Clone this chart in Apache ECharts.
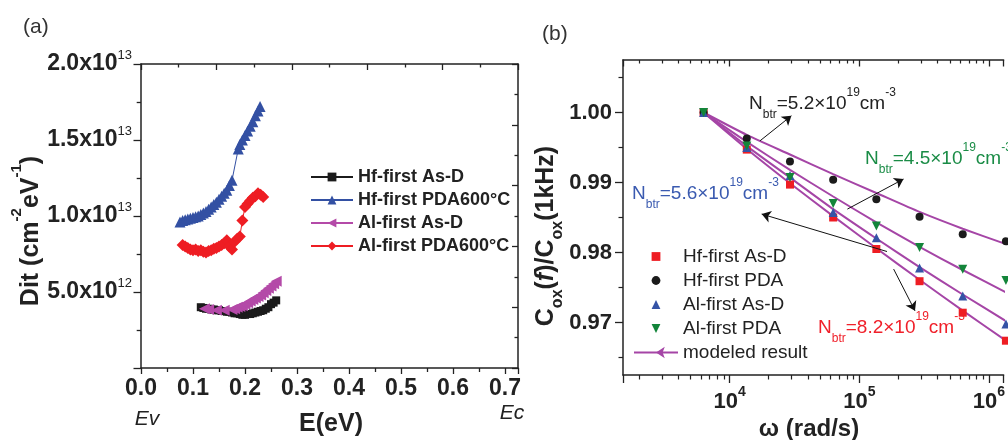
<!DOCTYPE html>
<html>
<head>
<meta charset="utf-8">
<script src="https://cdn.jsdelivr.net/npm/echarts@6/dist/echarts.min.js"></script>
<style>
  html, body { margin: 0; padding: 0; background: #fff; }
  #main { width: 1008px; height: 440px; }
</style>
</head>
<body>
<div id="main"></div>
<script>
// ---------- (a) Dit vs E ----------
// [E (eV), Dit (cm^-2 eV^-1)]
const hfAsD = [[0.115,4.0e12],[0.12,3.95e12],[0.125,3.9e12],[0.13,3.9e12],[0.135,3.85e12],[0.14,3.85e12],[0.145,3.8e12],[0.15,3.8e12],[0.155,3.75e12],[0.16,3.75e12],[0.165,3.7e12],[0.17,3.7e12],[0.175,3.65e12],[0.18,3.6e12],[0.185,3.6e12],[0.19,3.55e12],[0.195,3.5e12],[0.2,3.5e12],[0.205,3.55e12],[0.21,3.55e12],[0.215,3.6e12],[0.22,3.65e12],[0.225,3.7e12],[0.23,3.75e12],[0.235,3.8e12],[0.24,3.9e12],[0.245,4.0e12],[0.25,4.2e12],[0.255,4.3e12],[0.26,4.45e12]]
const hfPDA600 = [[0.075,9.6e12],[0.08,9.7e12],[0.085,9.75e12],[0.09,9.8e12],[0.095,9.85e12],[0.1,9.9e12],[0.105,9.95e12],[0.11,1.0e13],[0.115,1.01e13],[0.12,1.02e13],[0.125,1.03e13],[0.13,1.045e13],[0.135,1.06e13],[0.14,1.075e13],[0.145,1.09e13],[0.15,1.11e13],[0.155,1.13e13],[0.16,1.15e13],[0.165,1.17e13],[0.17,1.2e13],[0.175,1.235e13],[0.187,1.44e13],[0.19,1.47e13],[0.195,1.5e13],[0.2,1.53e13],[0.205,1.56e13],[0.21,1.59e13],[0.215,1.62e13],[0.22,1.66e13],[0.225,1.69e13],[0.229,1.72e13]]
const alAsD = [[0.122,3.9e12],[0.13,3.85e12],[0.145,3.8e12],[0.16,3.8e12],[0.175,3.85e12],[0.18,3.9e12],[0.185,4.0e12],[0.19,4.05e12],[0.195,4.1e12],[0.2,4.2e12],[0.205,4.3e12],[0.21,4.4e12],[0.215,4.5e12],[0.22,4.6e12],[0.225,4.7e12],[0.23,4.8e12],[0.235,4.95e12],[0.24,5.1e12],[0.245,5.25e12],[0.25,5.4e12],[0.255,5.55e12],[0.26,5.7e12]]
const alPDA600 = [[0.08,8.1e12],[0.085,8.0e12],[0.09,7.9e12],[0.095,7.8e12],[0.1,7.75e12],[0.105,7.8e12],[0.11,7.7e12],[0.115,7.75e12],[0.12,7.65e12],[0.125,7.6e12],[0.13,7.7e12],[0.135,7.75e12],[0.14,7.85e12],[0.145,7.9e12],[0.15,8.0e12],[0.155,8.1e12],[0.16,8.2e12],[0.165,8.4e12],[0.17,8.0e12],[0.175,7.8e12],[0.18,8.3e12],[0.185,8.5e12],[0.19,8.65e12],[0.195,9.7e12],[0.2,1.06e13],[0.205,1.08e13],[0.21,1.1e13],[0.215,1.12e13],[0.22,1.13e13],[0.225,1.15e13],[0.23,1.14e13],[0.235,1.125e13]]

// ---------- (b) Cox(f)/Cox(1kHz) vs omega ----------
const omega = [6283, 13537, 29164, 62832, 135366, 291637, 628318, 1353660]
const ratioHfAsD = [1.000, 0.9947, 0.9897, 0.9850, 0.9805, 0.9759, 0.9714, 0.9674]
const ratioHfPDA = [1.000, 0.9963, 0.9930, 0.9904, 0.9876, 0.9851, 0.9826, 0.9816]
const ratioAlAsD = [1.000, 0.9950, 0.9910, 0.9857, 0.9821, 0.9778, 0.9738, 0.9698]
const ratioAlPDA = [1.000, 0.9952, 0.9907, 0.9870, 0.9838, 0.9807, 0.9776, 0.9760]
// modeled result, one curve per Nbtr
const model52 = [1.000, 0.9968, 0.9940, 0.9912, 0.9885, 0.9858, 0.9834, 0.9812]
const model45 = [1.000, 0.9958, 0.9918, 0.9880, 0.9843, 0.9808, 0.9775, 0.9743]
const model56 = [1.000, 0.9952, 0.9907, 0.9862, 0.9820, 0.9779, 0.9740, 0.9702]
const model82 = [1.000, 0.9948, 0.9899, 0.9852, 0.9806, 0.9761, 0.9717, 0.9674]
// tick values of panel (b)
const ratioTicks = [0.97, 0.98, 0.99, 1.00]
const ratioMinorTicks = [0.965, 0.975, 0.985, 0.995, 1.005]
const omegaMinorTicks = [2e3,3e3,4e3,5e3,6e3,7e3,8e3,9e3,2e4,3e4,4e4,5e4,6e4,7e4,8e4,9e4,2e5,3e5,4e5,5e5,6e5,7e5,8e5,9e5]

const FONT = '"Liberation Sans", Arial, sans-serif'
const INK = '#222'
// 右边框在画面之外，只画到 1.3e6 rad/s
const OMEGA_MIN = 1500
const OMEGA_MAX = 1.2995e6

const zip = (xs, ys) => xs.map((x, i) => [x, ys[i]])

// 坐标轴线公共样式（不贴零点）
const axisLine = () => ({ onZero: false, lineStyle: { color: INK, width: 1.5 } })
const tick = (len, inside) => ({ show: true, inside: !!inside, length: len, lineStyle: { color: INK, width: 1.3 } })

// (a) labels: 5.0x10^12
function sciLabel(v) {
  if (v <= 0) return ''
  const e = Math.floor(Math.log10(v) + 1e-9)
  const m = (v / Math.pow(10, e)).toFixed(1)
  return '{m|' + m + 'x10}{s|' + e + '}'
}
function powLabel(v) {
  const e = Math.log10(v)
  if (Math.abs(e - Math.round(e)) > 1e-6) return ''
  return '{m|10}{s|' + Math.round(e) + '}'
}

const nbtr = (val, color) => ({
  text: '{n|N}{sub|btr}{n|=' + val + '×10}{sup|19}{n|cm}{sup|-3}',
  fill: color,
  align: 'left',
  verticalAlign: 'middle',
  rich: {
    n: { fontSize: 19, fontFamily: FONT, lineHeight: 34, fill: color },
    sub: { fontSize: 12, fontFamily: FONT, lineHeight: 12, verticalAlign: 'bottom', fill: color },
    sup: { fontSize: 12, fontFamily: FONT, lineHeight: 12, verticalAlign: 'top', fill: color }
  }
})

// 实测点：只画符号，不连线
const measured = (name, data, symbol, size, color, rotate) => ({
  name, type: 'line', xAxisIndex: 2, yAxisIndex: 2, data,
  symbol, symbolSize: size, symbolRotate: rotate || 0, showAllSymbol: true, clip: false,
  color, lineStyle: { opacity: 0, width: 0 }
})

const option = {
  animation: false,
  backgroundColor: '#fff',
  grid: [
    { left: 141, top: 64, width: 377, height: 304 },
    { left: 623, top: 60, width: 385, height: 315 }
  ],
  xAxis: [
    // (a) bottom
    {
      type: 'value', gridIndex: 0, position: 'bottom', min: 0, max: 0.725, interval: 0.1,
      axisLine: axisLine(), axisTick: tick(6),
      minorTick: { show: true, splitNumber: 2, length: 4, lineStyle: { color: INK, width: 1.3 } },
      splitLine: { show: false }, minorSplitLine: { show: false },
      axisLabel: {
        margin: 9, color: INK, fontSize: 23, fontWeight: 'bold', fontFamily: FONT,
        formatter: v => Math.abs(v * 10 - Math.round(v * 10)) < 1e-6 ? v.toFixed(1) : ''
      }
    },
    // (a) top mirror
    {
      type: 'value', gridIndex: 0, position: 'top', min: 0, max: 10, interval: 2,
      axisLine: axisLine(), axisTick: tick(6, true),
      minorTick: { show: true, splitNumber: 2, length: 3.5, lineStyle: { color: INK, width: 1.3 } },
      axisLabel: { show: false }, splitLine: { show: false }
    },
    // (b) bottom, log
    {
      type: 'log', logBase: 10, gridIndex: 1, position: 'bottom', min: OMEGA_MIN, max: OMEGA_MAX,
      axisLine: axisLine(), axisTick: tick(8),
      splitLine: { show: false },
      axisLabel: {
        margin: 10, color: INK, fontFamily: FONT, formatter: powLabel,
        rich: {
          m: { fontSize: 22, fontWeight: 'bold', fontFamily: FONT, lineHeight: 34 },
          s: { fontSize: 14, fontWeight: 'bold', fontFamily: FONT, lineHeight: 14, verticalAlign: 'top' }
        }
      }
    },
    // (b) bottom minor ticks (log positions)
    {
      type: 'value', gridIndex: 1, position: 'bottom',
      min: Math.log10(OMEGA_MIN), max: Math.log10(OMEGA_MAX),
      axisLine: { show: false, onZero: false }, axisLabel: { show: false }, splitLine: { show: false },
      axisTick: { show: true, customValues: omegaMinorTicks.map(Math.log10), length: 4.5, lineStyle: { color: INK, width: 1.2 } }
    },
    // (b) top mirror, log
    {
      type: 'log', logBase: 10, gridIndex: 1, position: 'top', min: OMEGA_MIN, max: OMEGA_MAX,
      axisLine: axisLine(), axisTick: tick(6.5, true),
      axisLabel: { show: false }, splitLine: { show: false }
    },
    {
      type: 'value', gridIndex: 1, position: 'top',
      min: Math.log10(OMEGA_MIN), max: Math.log10(OMEGA_MAX),
      axisLine: { show: false, onZero: false }, axisLabel: { show: false }, splitLine: { show: false },
      axisTick: { show: true, inside: true, customValues: omegaMinorTicks.map(Math.log10), length: 3.5, lineStyle: { color: INK, width: 1.2 } }
    }
  ],
  yAxis: [
    // (a) left
    {
      type: 'value', gridIndex: 0, position: 'left', min: 0, max: 2e13, interval: 5e12,
      axisLine: axisLine(), axisTick: tick(7.5),
      minorTick: { show: true, splitNumber: 2, length: 4.3, lineStyle: { color: INK, width: 1.3 } },
      splitLine: { show: false }, minorSplitLine: { show: false },
      axisLabel: {
        margin: 9, color: INK, fontFamily: FONT, formatter: sciLabel,
        rich: {
          m: { fontSize: 23, fontWeight: 'bold', fontFamily: FONT, lineHeight: 30 },
          s: { fontSize: 13, fontFamily: FONT, lineHeight: 13, verticalAlign: 'top' }
        }
      }
    },
    // (a) right mirror
    {
      type: 'value', gridIndex: 0, position: 'right', min: 0, max: 10, interval: 2,
      axisLine: axisLine(), axisTick: tick(6, true),
      minorTick: { show: true, splitNumber: 2, length: 3.5, lineStyle: { color: INK, width: 1.3 } },
      axisLabel: { show: false }, splitLine: { show: false }
    },
    // (b) left
    {
      type: 'value', gridIndex: 1, position: 'left', min: 0.9625, max: 1.0075,
      axisLine: axisLine(),
      axisTick: { show: true, customValues: ratioTicks, length: 8, lineStyle: { color: INK, width: 1.3 } },
      splitLine: { show: false },
      axisLabel: {
        customValues: ratioTicks, margin: 11, color: INK, fontSize: 22, fontWeight: 'bold', fontFamily: FONT,
        formatter: v => v.toFixed(2)
      }
    },
    {
      type: 'value', gridIndex: 1, position: 'left', min: 0.9625, max: 1.0075,
      axisLine: { show: false, onZero: false }, axisLabel: { show: false }, splitLine: { show: false },
      axisTick: { show: true, customValues: ratioMinorTicks, length: 4.5, lineStyle: { color: INK, width: 1.2 } }
    }
  ],
  legend: [
    {
      orient: 'vertical', left: 305, top: 163, itemWidth: 42, itemHeight: 11, itemGap: 5,
      textStyle: { fontSize: 18, fontWeight: 'bold', fontFamily: FONT, color: INK, lineHeight: 18 },
      data: ['Hf-first As-D', 'Hf-first PDA600°C', 'Al-first As-D', 'Al-first PDA600°C']
    },
    {
      orient: 'vertical', left: 628, top: 242, itemWidth: 44, itemHeight: 11, itemGap: 5,
      textStyle: { fontSize: 19, fontFamily: FONT, color: INK, lineHeight: 19 },
      formatter: name => name.split('#')[0],
      data: ['Hf-first As-D#b', 'Hf-first PDA#b', 'Al-first As-D#b', 'Al-first PDA#b', 'modeled result']
    }
  ],
  series: [
    // (a)
    { name: 'Hf-first As-D', type: 'line', xAxisIndex: 0, yAxisIndex: 0, data: hfAsD,
      symbol: 'rect', symbolSize: 8, color: '#1b1b1b', lineStyle: { width: 1 } },
    { name: 'Hf-first PDA600°C', type: 'line', xAxisIndex: 0, yAxisIndex: 0, data: hfPDA600,
      symbol: 'triangle', symbolSize: 11, color: '#3350a3', lineStyle: { width: 1 } },
    { name: 'Al-first As-D', type: 'line', xAxisIndex: 0, yAxisIndex: 0, data: alAsD,
      symbol: 'triangle', symbolRotate: 90, symbolSize: 11, color: '#b44aa8', lineStyle: { width: 1 } },
    { name: 'Al-first PDA600°C', type: 'line', xAxisIndex: 0, yAxisIndex: 0, data: alPDA600,
      symbol: 'diamond', symbolSize: 12, color: '#ee1d23', lineStyle: { width: 1 } },
    // (b) measured
    measured('Hf-first As-D#b', zip(omega, ratioHfAsD), 'rect', 8, '#ee1d23'),
    measured('Hf-first PDA#b', zip(omega, ratioHfPDA), 'circle', 8, '#1b1b1b'),
    measured('Al-first As-D#b', zip(omega, ratioAlAsD), 'triangle', 9, '#3553a6'),
    measured('Al-first PDA#b', zip(omega, ratioAlPDA), 'triangle', 9, '#13853a', 180),
    // (b) model curves
    ...[model52, model45, model56, model82].map((m, i) => ({
      name: 'modeled result', type: 'line', xAxisIndex: 2, yAxisIndex: 2, data: zip(omega, m),
      smooth: 0.2, showSymbol: false, symbol: 'arrow', symbolRotate: 90, symbolSize: 6, clip: false,
      color: '#a545a6', lineStyle: { width: 2 }, z: 3,
      markLine: i > 0 ? undefined : {
        silent: true, symbol: ['none', 'arrow'], symbolSize: 9,
        lineStyle: { color: '#111', width: 1, type: 'solid' }, label: { show: false },
        data: [
          [{ coord: [17140, 0.99596] }, { coord: [29900, 0.99953] }],
          [{ coord: [80900, 0.9862] }, { coord: [219400, 0.99049] }],
          [{ coord: [163600, 0.98014] }, { coord: [17640, 0.98549] }],
          [{ coord: [184100, 0.97763] }, { coord: [269000, 0.97167] }]
        ]
      }
    }))
  ],
  graphic: [
    { type: 'text', x: 23, y: 27, style: { text: '(a)', fontSize: 21, fontFamily: FONT, fill: '#333', verticalAlign: 'middle' } },
    { type: 'text', x: 542, y: 34, style: { text: '(b)', fontSize: 21, fontFamily: FONT, fill: '#333', verticalAlign: 'middle' } },
    { type: 'text', x: 147, y: 419, style: { text: 'Ev', fontSize: 21, fontStyle: 'italic', fontFamily: FONT, fill: INK, align: 'center', verticalAlign: 'middle' } },
    { type: 'text', x: 512, y: 413, style: { text: 'Ec', fontSize: 21, fontStyle: 'italic', fontFamily: FONT, fill: INK, align: 'center', verticalAlign: 'middle' } },
    { type: 'text', x: 331, y: 424, style: { text: 'E(eV)', fontSize: 25, fontWeight: 'bold', fontFamily: FONT, fill: INK, align: 'center', verticalAlign: 'middle' } },
    {
      type: 'text', x: 31, y: 231, rotation: Math.PI / 2,
      style: {
        text: '{m|Dit (cm}{s|-2}{m|eV}{s|-1}{m|)}', align: 'center', verticalAlign: 'middle', fill: INK,
        rich: {
          m: { fontSize: 25, fontWeight: 'bold', fontFamily: FONT, lineHeight: 44, fill: INK },
          s: { fontSize: 15, fontWeight: 'bold', fontFamily: FONT, lineHeight: 15, verticalAlign: 'top', fill: INK }
        }
      }
    },
    {
      type: 'text', x: 546, y: 236, rotation: Math.PI / 2,
      style: {
        text: '{m|C}{b|ox}{m|(}{i|f}{m|)/C}{b|ox}{m|(1kHz)}', align: 'center', verticalAlign: 'middle', fill: INK,
        rich: {
          m: { fontSize: 25, fontWeight: 'bold', fontFamily: FONT, lineHeight: 40, fill: INK },
          i: { fontSize: 25, fontWeight: 'bold', fontStyle: 'italic', fontFamily: FONT, lineHeight: 40, fill: INK },
          b: { fontSize: 16, fontWeight: 'bold', fontFamily: FONT, lineHeight: 16, verticalAlign: 'bottom', fill: INK }
        }
      }
    },
    { type: 'text', x: 809, y: 429, style: { text: 'ω (rad/s)', fontSize: 24, fontWeight: 'bold', fontFamily: FONT, fill: INK, align: 'center', verticalAlign: 'middle' } },
    { type: 'text', x: 749, y: 104, style: nbtr('5.2', '#222') },
    { type: 'text', x: 865, y: 159, style: nbtr('4.5', '#1a8c46') },
    { type: 'text', x: 632, y: 194, style: nbtr('5.6', '#3a5ab0') },
    { type: 'text', x: 818, y: 328, style: nbtr('8.2', '#f0202a') }
  ]
}

const chart = echarts.init(document.getElementById('main'))
chart.setOption(option)
</script>
</body>
</html>
